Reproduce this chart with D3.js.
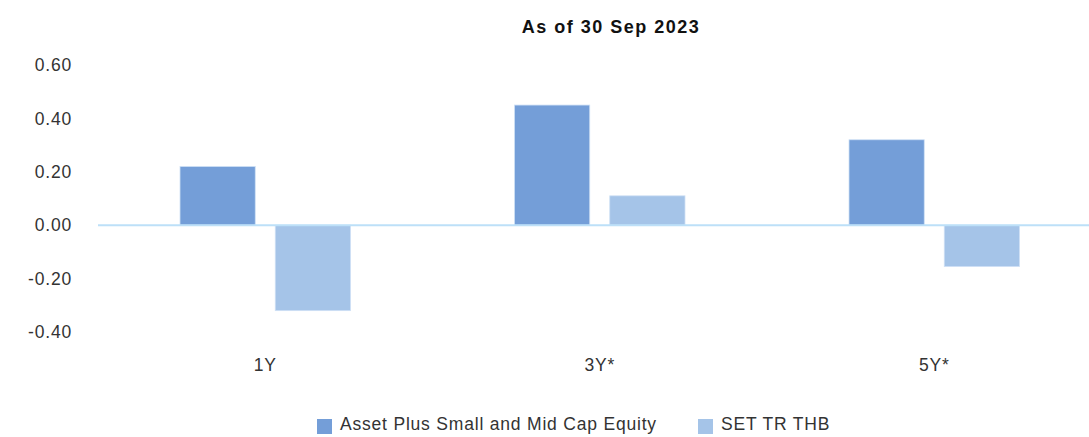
<!DOCTYPE html>
<html>
<head>
<meta charset="utf-8">
<script src="https://cdn.jsdelivr.net/npm/d3@7"></script>
<style>
  body { margin: 0; background: #fff; }
  text { font-family: "Liberation Sans", Arial, sans-serif; }
</style>
</head>
<body>
<div id="chart"></div>
<script>
const categories = ["1Y", "3Y*", "5Y*"];
const seriesNames = ["Asset Plus Small and Mid Cap Equity", "SET TR THB"];
const fundValues = [0.22, 0.45, 0.32];
const indexValues = [-0.32, 0.11, -0.155];
const yTicks = [0.6, 0.4, 0.2, 0, -0.2, -0.4];
const colors = ["#749ed8", "#a5c4e8"];

const width = 1089, height = 437;
const fontFam = "'Liberation Sans', Arial, sans-serif";

let svg = d3.select("#chart")
    .append("svg")
        .attr("width", width)
        .attr("height", height);

// y scale: 0.60 at ~65px, -0.40 at ~332px
let y = d3.scaleLinear().domain([-0.4, 0.6]).range([332, 65]);

let x0 = d3.scaleBand()
    .domain(categories)
    .range([98, 1101.5])
    .paddingInner(0)
    .paddingOuter(0);

let x1 = d3.scaleBand()
    .domain(seriesNames)
    .range([82, x0.bandwidth() - 82])
    .paddingInner(0.21);

// title
svg.append("text")
    .attr("x", 611)
    .attr("y", 33)
    .attr("text-anchor", "middle")
    .attr("font-size", 18)
    .attr("font-weight", "bold")
    .attr("letter-spacing", 1.5)
    .attr("fill", "#111")
    .text("As of 30 Sep 2023");

// y axis labels
let fmt = d3.format(".2f");
let yAxis = d3.axisLeft(y)
    .tickValues(yTicks)
    .tickFormat(d => fmt(d).replace("\u2212", "-"))
    .tickSize(0)
    .tickPadding(0);

let yg = svg.append("g")
    .attr("transform", "translate(72,0)")
    .call(yAxis);
yg.select(".domain").remove();
yg.selectAll("text")
    .attr("font-size", 17.5)
    .attr("letter-spacing", 0.8)
    .attr("fill", "#333")
    .style("font-family", fontFam);

// bars
let rows = categories.map((c, i) => ({cat: c, vals: [fundValues[i], indexValues[i]]}));

let groups = svg.selectAll(".grp")
    .data(rows)
    .enter().append("g")
    .attr("class", "grp")
    .attr("transform", d => "translate(" + x0(d.cat) + ",0)");

groups.selectAll("rect")
    .data(d => d.vals.map((v, j) => ({name: seriesNames[j], value: v, j: j})))
    .enter().append("rect")
    .attr("x", d => x1(d.name))
    .attr("width", x1.bandwidth())
    .attr("y", d => y(Math.max(0, d.value)))
    .attr("height", d => Math.abs(y(d.value) - y(0)))
    .attr("fill", d => colors[d.j])
    .attr("stroke", "#cfe0f5")
    .attr("stroke-width", 0.8);

// zero line
svg.append("line")
    .attr("x1", 98)
    .attr("x2", width)
    .attr("y1", y(0))
    .attr("y2", y(0))
    .attr("stroke", "#bde0f8")
    .attr("stroke-width", 2);

// category labels
let xAxis = d3.axisBottom(x0).tickSize(0).tickPadding(0);
let xg = svg.append("g")
    .attr("transform", "translate(0,359)")
    .call(xAxis);
xg.select(".domain").remove();
xg.selectAll("text")
    .attr("font-size", 17.5)
    .attr("letter-spacing", 0.8)
    .attr("fill", "#333")
    .style("font-family", fontFam);

// legend
let legendX = [317, 698];
let legend = svg.selectAll(".leg")
    .data(seriesNames)
    .enter().append("g")
    .attr("class", "leg")
    .attr("transform", (d, i) => "translate(" + legendX[i] + ",419)");

legend.append("rect")
    .attr("width", 15)
    .attr("height", 15)
    .attr("fill", (d, i) => colors[i]);

legend.append("text")
    .attr("x", 23)
    .attr("y", 11)
    .attr("font-size", 17.5)
    .attr("letter-spacing", 0.8)
    .attr("fill", "#333")
    .text(d => d);
</script>
</body>
</html>
